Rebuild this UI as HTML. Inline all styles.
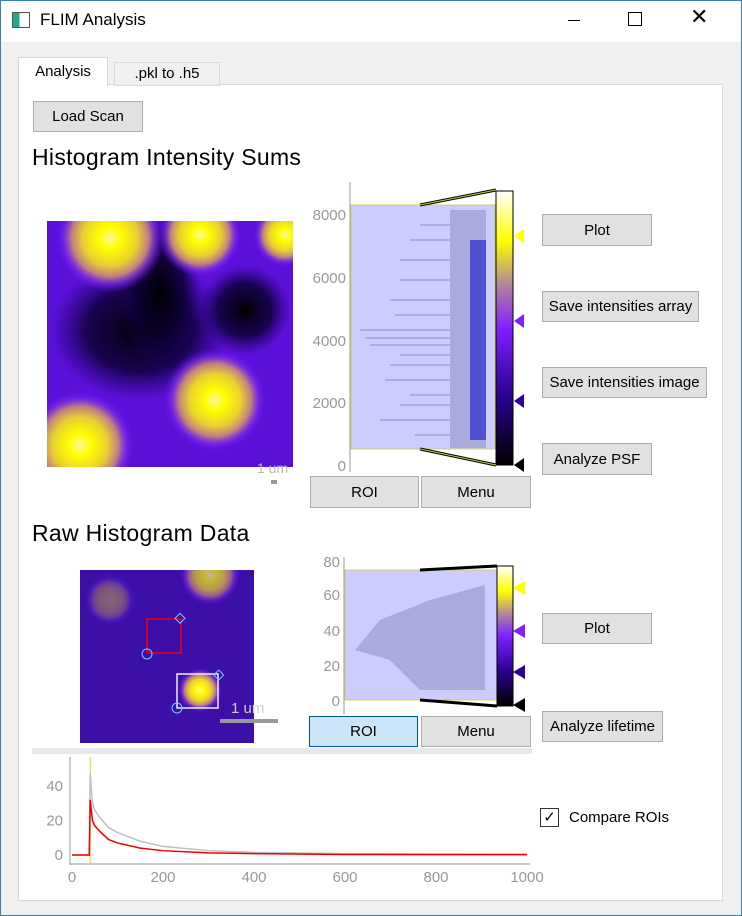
<!DOCTYPE html>
<html><head><meta charset="utf-8"><style>
body{margin:0;width:742px;height:916px;background:#f0f0f0;font-family:"Liberation Sans",sans-serif;position:relative;overflow:hidden}
.a{position:absolute}
.btn{position:absolute;background:#e1e1e1;border:1px solid #adadad;font-size:15px;display:flex;align-items:center;justify-content:center;box-sizing:border-box;color:#000}
</style></head><body>
<div class="a" style="left:0;top:0;width:740px;height:914px;border:1px solid #3c7fb1"></div>
<div class="a" style="left:1px;top:1px;width:740px;height:41px;background:#fff"></div>
<div class="a" style="left:12px;top:12px;width:16px;height:14px;border:1px solid #555;background:linear-gradient(90deg,#2a8 40%,#fff 40%)"></div>
<div class="a" style="left:40px;top:10px;font-size:17px">FLIM Analysis</div>
<div class="a" style="left:568px;top:20px;width:12px;height:1px;background:#000"></div>
<div class="a" style="left:628px;top:12px;width:12px;height:12px;border:1px solid #000"></div>
<div class="a" style="left:690px;top:4px;font-size:22px">✕</div>
<div class="a" style="left:18px;top:84px;width:703px;height:815px;background:#fff;border:1px solid #d9d9d9"></div>
<div class="a" style="left:18px;top:57px;width:88px;height:28px;background:#fff;border:1px solid #d9d9d9;border-bottom:none;font-size:15px;text-align:center;line-height:28px">Analysis</div>
<div class="a" style="left:114px;top:62px;width:104px;height:22px;background:#f0f0f0;border:1px solid #d9d9d9;font-size:15px;text-align:center;line-height:22px">.pkl to .h5</div>
<div class="btn" style="left:33px;top:101px;width:110px;height:31px">Load Scan</div>
<div class="a" style="left:32px;top:144px;font-size:23px;letter-spacing:0.3px">Histogram Intensity Sums</div>
<div class="a" style="left:32px;top:520px;font-size:23px;letter-spacing:0.3px">Raw Histogram Data</div>

<svg class="a" style="left:0;top:0" width="742" height="916">
<defs>
<radialGradient id="yb"><stop offset="0" stop-color="#fff8a0"/><stop offset=".2" stop-color="#ffff00"/><stop offset=".5" stop-color="#e8d030"/><stop offset=".7" stop-color="#c08080"/><stop offset=".85" stop-color="#8030e8" stop-opacity=".6"/><stop offset="1" stop-color="#6010f0" stop-opacity="0"/></radialGradient>
<radialGradient id="dk"><stop offset="0" stop-color="#000"/><stop offset=".6" stop-color="#0a0030" stop-opacity=".8"/><stop offset="1" stop-color="#200070" stop-opacity="0"/></radialGradient>
<linearGradient id="cb" x1="0" y1="1" x2="0" y2="0"><stop offset="0" stop-color="#000"/><stop offset=".25" stop-color="#2a0090"/><stop offset=".5" stop-color="#8020ff"/><stop offset=".65" stop-color="#b080a0"/><stop offset=".82" stop-color="#ffff00"/><stop offset="1" stop-color="#fff"/></linearGradient>
<clipPath id="c1"><rect x="47" y="221" width="246" height="246"/></clipPath>
<clipPath id="c2"><rect x="80" y="570" width="174" height="173"/></clipPath>
</defs>
<g clip-path="url(#c1)">
<rect x="47" y="221" width="246" height="246" fill="#5a10d8"/>
<ellipse cx="140" cy="330" rx="90" ry="70" fill="url(#dk)"/>
<ellipse cx="245" cy="310" rx="45" ry="45" fill="url(#dk)"/>
<ellipse cx="160" cy="290" rx="40" ry="80" fill="url(#dk)"/>
<circle cx="110" cy="238" r="55" fill="url(#yb)"/>
<circle cx="200" cy="235" r="42" fill="url(#yb)"/>
<circle cx="285" cy="235" r="32" fill="url(#yb)"/>
<circle cx="215" cy="400" r="52" fill="url(#yb)"/>
<circle cx="80" cy="445" r="55" fill="url(#yb)"/>
</g>
<text x="257" y="473" fill="#bbb" font-size="14" font-family="Liberation Sans">1 um</text>
<rect x="271" y="480" width="6" height="4" fill="#999"/>
<g clip-path="url(#c2)">
<rect x="80" y="570" width="174" height="173" fill="#3c10a8"/>
<circle cx="210" cy="575" r="30" fill="url(#yb)" opacity=".7"/>
<circle cx="200" cy="690" r="22" fill="url(#yb)"/>
<circle cx="110" cy="600" r="25" fill="url(#yb)" opacity=".35"/>
</g>
<rect x="147" y="619" width="34" height="34" fill="none" stroke="#e00" stroke-width="1.5"/>
<circle cx="147" cy="654" r="5" fill="none" stroke="#7cf"/>
<rect x="176" y="615" width="7" height="7" transform="rotate(45 180 619)" fill="none" stroke="#7cf"/>
<rect x="177" y="674" width="41" height="34" fill="none" stroke="#eee" stroke-width="1.5"/>
<circle cx="177" cy="708" r="5" fill="none" stroke="#7cf"/>
<rect x="215" y="671" width="7" height="7" transform="rotate(45 218 675)" fill="none" stroke="#7cf"/>
<text x="231" y="713" fill="#ccc" font-size="15" font-family="Liberation Sans">1 um</text>
<rect x="220" y="719" width="58" height="4" fill="#999"/>

<!-- histogram 1 -->
<line x1="350" y1="182" x2="350" y2="472" stroke="#999"/>
<rect x="351" y="205" width="144" height="244" fill="#ccccff" stroke="#cc4" stroke-width=".8"/>
<rect x="450" y="210" width="36" height="238" fill="#aaaadd"/>
<rect x="470" y="240" width="16" height="200" fill="#5050d0"/>
<g stroke="#9999cc" stroke-width="1.2"><line x1="360" y1="330" x2="450" y2="330"/><line x1="370" y1="345" x2="450" y2="345"/><line x1="390" y1="300" x2="450" y2="300"/><line x1="380" y1="420" x2="450" y2="420"/><line x1="400" y1="260" x2="450" y2="260"/><line x1="385" y1="380" x2="450" y2="380"/><line x1="410" y1="240" x2="450" y2="240"/><line x1="400" y1="280" x2="450" y2="280"/><line x1="395" y1="315" x2="450" y2="315"/><line x1="365" y1="338" x2="450" y2="338"/><line x1="400" y1="355" x2="450" y2="355"/><line x1="390" y1="365" x2="450" y2="365"/><line x1="410" y1="395" x2="450" y2="395"/><line x1="400" y1="405" x2="450" y2="405"/><line x1="415" y1="435" x2="450" y2="435"/><line x1="420" y1="225" x2="450" y2="225"/></g>
<rect x="496" y="191" width="17" height="274" fill="url(#cb)" stroke="#000"/>
<polyline points="420,205 496,190" stroke="#000" stroke-width="3" fill="none"/><polyline points="420,205 496,190" stroke="#cc4" stroke-width="1" fill="none"/>
<polyline points="420,449 496,465" stroke="#000" stroke-width="3" fill="none"/><polyline points="420,449 496,465" stroke="#cc4" stroke-width="1" fill="none"/>
<polygon points="514,236 524,229 524,243" fill="#ff0"/><polygon points="514,321 524,314 524,328" fill="#8020ff"/><polygon points="514,401 524,394 524,408" fill="#300090"/><polygon points="514,465 524,458 524,472" fill="#000"/>
<g font-family="Liberation Sans" font-size="15" fill="#999" text-anchor="end"><text x="346" y="220">8000</text><text x="346" y="283">6000</text><text x="346" y="346">4000</text><text x="346" y="408">2000</text><text x="346" y="471">0</text></g>
<!-- histogram 2 -->
<line x1="344" y1="557" x2="344" y2="714" stroke="#999"/>
<rect x="345" y="570" width="152" height="130" fill="#ccccff" stroke="#cc4" stroke-width=".8"/>
<polygon points="485,585 485,690 420,690 390,660 355,650 380,620 430,600" fill="#aaaadd"/>
<rect x="497" y="566" width="16" height="140" fill="url(#cb)" stroke="#000"/>
<polyline points="420,570 497,566" stroke="#000" stroke-width="3"/><polyline points="420,700 497,706" stroke="#000" stroke-width="3"/>
<polygon points="513,588 525,581 525,595" fill="#ff0"/><polygon points="513,631 525,624 525,638" fill="#8020ff"/><polygon points="513,672 525,665 525,679" fill="#300090"/><polygon points="513,705 525,698 525,712" fill="#000"/>
<g font-family="Liberation Sans" font-size="15" fill="#999" text-anchor="end"><text x="340" y="567">80</text><text x="340" y="600">60</text><text x="340" y="636">40</text><text x="340" y="671">20</text><text x="340" y="706">0</text></g>
<rect x="32" y="748" width="500" height="6" fill="#e8e8e8"/>
<g id="decay"></g>
</svg>

<div class="btn" style="left:542px;top:214px;width:110px;height:32px">Plot</div>
<div class="btn" style="left:542px;top:291px;width:157px;height:31px">Save intensities array</div>
<div class="btn" style="left:542px;top:367px;width:165px;height:31px">Save intensities image</div>
<div class="btn" style="left:542px;top:443px;width:110px;height:32px">Analyze PSF</div>
<div class="btn" style="left:310px;top:476px;width:109px;height:32px">ROI</div>
<div class="btn" style="left:421px;top:476px;width:110px;height:32px">Menu</div>
<div class="btn" style="left:542px;top:613px;width:110px;height:31px">Plot</div>
<div class="btn" style="left:542px;top:711px;width:121px;height:31px">Analyze lifetime</div>
<div class="btn" style="left:309px;top:716px;width:109px;height:31px;background:#cce4f7;border-color:#005499">ROI</div>
<div class="btn" style="left:421px;top:716px;width:110px;height:31px">Menu</div>
<div class="a" style="left:540px;top:808px;width:17px;height:17px;border:1px solid #333;background:#fff;font-size:15px;line-height:17px;text-align:center">✓</div>
<div class="a" style="left:569px;top:809px;font-size:15px">Compare ROIs</div>

<script>
const xTicks=[0,200,400,600,800,1000];
const yTicks=[0,20,40];
const times=[0,38,40,45,50,60,80,100,150,200,300,400,600,800,1000];
const graySeries=[0,0,47,30,26,22,16,13,8,5,2.5,1.5,0.8,0.6,0.5];
const redSeries=[0,0,32,20,17,14,9,7,4,2.5,1.2,0.8,0.3,0.25,0.2];
const NS="http://www.w3.org/2000/svg";
const g=document.getElementById('decay');
const X=v=>72+v*(527-72)/1000, Y=v=>855-v*(855-786)/40;
function mk(t,a){const e=document.createElementNS(NS,t);for(const k in a)e.setAttribute(k,a[k]);g.appendChild(e);return e;}
mk('line',{x1:70,y1:757,x2:70,y2:865,stroke:'#999'});
mk('line',{x1:70,y1:864,x2:530,y2:864,stroke:'#999'});
xTicks.forEach(v=>{const t=mk('text',{x:X(v),y:882,'text-anchor':'middle','font-size':15,fill:'#999','font-family':'Liberation Sans'});t.textContent=v;

});
yTicks.forEach(v=>{const t=mk('text',{x:63,y:Y(v)+5,'text-anchor':'end','font-size':15,fill:'#999','font-family':'Liberation Sans'});t.textContent=v;

});
mk('line',{x1:X(40),y1:757,x2:X(40),y2:864,stroke:'#dd0'});
function line(vals,col,name){const p=mk('polyline',{points:times.map((t,i)=>X(t)+','+Y(vals[i])).join(' '),fill:'none',stroke:col,'stroke-width':1.5});

}
line(graySeries,'#c0c0c0','gray-series');
line(redSeries,'#e00','red-series');
</script>
</body></html>
